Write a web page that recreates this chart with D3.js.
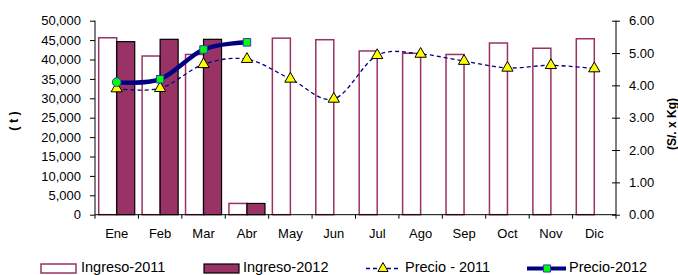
<!DOCTYPE html>
<html>
<head>
<meta charset="utf-8">
<script src="https://cdn.jsdelivr.net/npm/d3@7"></script>
<style>
  body { margin: 0; background: #fff; }
  svg { display: block; font-family: "Liberation Sans", Arial, sans-serif; }
  .axis path, .axis line { stroke: #000; }
  .axis text { font-size: 13px; fill: #000; }
</style>
</head>
<body>
<div id="chart"></div>
<script>
const months = ["Ene", "Feb", "Mar", "Abr", "May", "Jun", "Jul", "Ago", "Sep", "Oct", "Nov", "Dic"];
const ingreso2011 = [45600, 40900, 41300, 2900, 45500, 45100, 42200, 41600, 41300, 44250, 42900, 45350];
const ingreso2012 = [44600, 45200, 45200, 2900];
const precio2011 = [3.90, 3.91, 4.65, 4.81, 4.20, 3.58, 4.93, 4.97, 4.75, 4.54, 4.62, 4.52];
const precio2012 = [4.10, 4.19, 5.11, 5.33];
const leftTicks = [0, 5000, 10000, 15000, 20000, 25000, 30000, 35000, 40000, 45000, 50000];
const rightTicks = [0, 1, 2, 3, 4, 5, 6];

const w = 678, h = 275;
const pLeft = 95, pRight = 616, pTop = 20.7, pBottom = 214.7;

const svg = d3.select("#chart").append("svg")
  .attr("width", w)
  .attr("height", h);

const x = d3.scaleBand().domain(months).range([pLeft, pRight]).paddingInner(0).paddingOuter(0);
const xSub = d3.scaleBand().domain(["2011", "2012"]).range([3.7, x.bandwidth() - 3.7]);
const yL = d3.scaleLinear().domain([0, 50000]).range([pBottom, pTop]);
const yR = d3.scaleLinear().domain([0, 6]).range([pBottom, pTop]);

// bars 2011
svg.selectAll("rect.b11")
  .data(ingreso2011)
  .enter().append("rect")
  .attr("class", "b11")
  .attr("x", (d, i) => x(months[i]) + xSub("2011"))
  .attr("y", d => yL(d))
  .attr("width", xSub.bandwidth())
  .attr("height", d => pBottom - yL(d))
  .attr("fill", "#fff")
  .attr("stroke", "#993366")
  .attr("stroke-width", 1.5);

svg.selectAll("rect.b12")
  .data(ingreso2012)
  .enter().append("rect")
  .attr("class", "b12")
  .attr("x", (d, i) => x(months[i]) + xSub("2012"))
  .attr("y", d => yL(d))
  .attr("width", xSub.bandwidth())
  .attr("height", d => pBottom - yL(d))
  .attr("fill", "#993366")
  .attr("stroke", "#000")
  .attr("stroke-width", 1.2);

// axes
const xAxis = d3.axisBottom(x).tickSize(0).tickPadding(14);
const gx = svg.append("g")
  .attr("class", "axis")
  .attr("transform", `translate(0, ${pBottom})`)
  .call(xAxis);
gx.select(".domain").attr("d", `M${pLeft},0H${pRight}`);
// ticks at category boundaries
gx.selectAll("line.bnd")
  .data(d3.range(months.length + 1))
  .enter().append("line")
  .attr("class", "bnd")
  .attr("x1", i => pLeft + i * x.step())
  .attr("x2", i => pLeft + i * x.step())
  .attr("y1", 0)
  .attr("y2", 4)
  .attr("stroke", "#000");

const gl = svg.append("g")
  .attr("class", "axis")
  .attr("transform", `translate(${pLeft}, 0)`)
  .call(d3.axisLeft(yL).tickValues(leftTicks).tickSize(5).tickPadding(9).tickFormat(d3.format(",")));
gl.select(".domain").attr("d", `M0,${pTop}V${pBottom}`);

const gr = svg.append("g")
  .attr("class", "axis")
  .attr("transform", `translate(${pRight}, 0)`)
  .call(d3.axisRight(yR).tickValues(rightTicks).tickSize(4).tickPadding(9).tickFormat(d3.format(".2f")));
gr.select(".domain").attr("d", `M0,${pTop}V${pBottom}`);
gr.selectAll(".tick line").attr("x1", -4);

// axis titles
svg.append("text")
  .attr("transform", `translate(17.5, 121) rotate(-90)`)
  .attr("text-anchor", "middle")
  .attr("font-size", "12.5px")
  .attr("font-weight", "bold")
  .text("( t )");

svg.append("text")
  .attr("transform", `translate(676, 124) rotate(-90)`)
  .attr("text-anchor", "middle")
  .attr("font-size", "12px")
  .attr("font-weight", "bold")
  .text("(S/. x Kg)");

// lines
const cx = i => x(months[i]) + x.bandwidth() / 2;
const line = d3.line()
  .x((d, i) => cx(i))
  .y(d => yR(d))
  .curve(d3.curveCatmullRom.alpha(0));

svg.append("path")
  .datum(precio2011)
  .attr("d", line)
  .attr("fill", "none")
  .attr("stroke", "#000080")
  .attr("stroke-width", 1.3)
  .attr("stroke-dasharray", "4,3");

const tri = d3.symbol().type(d3.symbolTriangle).size(55);
svg.selectAll("path.t11")
  .data(precio2011)
  .enter().append("path")
  .attr("class", "t11")
  .attr("d", tri)
  .attr("transform", (d, i) => `translate(${cx(i)}, ${yR(d)})`)
  .attr("fill", "#ffff00")
  .attr("stroke", "#000")
  .attr("stroke-width", 1);

svg.append("path")
  .datum(precio2012)
  .attr("d", line)
  .attr("fill", "none")
  .attr("stroke", "#000080")
  .attr("stroke-width", 4.5);

svg.selectAll("path.m12")
  .data(precio2012)
  .enter().append("path")
  .attr("class", "m12")
  .attr("d", (d, i) => d3.symbol().type(i === 0 ? d3.symbolCircle : d3.symbolSquare).size(i === 0 ? 60 : 56)())
  .attr("transform", (d, i) => `translate(${cx(i)}, ${yR(d)})`)
  .attr("fill", "#00ff00")
  .attr("stroke", "#3333cc")
  .attr("stroke-width", 1);

// legend
const lg = svg.append("g").attr("font-size", "14.5px");
const ly = 268.5;

lg.append("rect").attr("x", 41).attr("y", ly - 4.5).attr("width", 35).attr("height", 9)
  .attr("fill", "#fff").attr("stroke", "#993366").attr("stroke-width", 1.5);
lg.append("text").attr("x", 81).attr("y", ly + 3.5).text("Ingreso-2011");

lg.append("rect").attr("x", 204).attr("y", ly - 4.5).attr("width", 35).attr("height", 9)
  .attr("fill", "#993366").attr("stroke", "#000").attr("stroke-width", 1.2);
lg.append("text").attr("x", 243).attr("y", ly + 3.5).text("Ingreso-2012");

lg.append("line").attr("x1", 366).attr("x2", 400).attr("y1", ly).attr("y2", ly)
  .attr("stroke", "#000080").attr("stroke-width", 1.3).attr("stroke-dasharray", "4,3");
lg.append("path").attr("d", d3.symbol().type(d3.symbolTriangle).size(45))
  .attr("transform", `translate(383, ${ly})`)
  .attr("fill", "#ffff00").attr("stroke", "#000");
lg.append("text").attr("x", 405).attr("y", ly + 3.5).text("Precio - 2011");

lg.append("line").attr("x1", 527).attr("x2", 566).attr("y1", ly).attr("y2", ly)
  .attr("stroke", "#000080").attr("stroke-width", 4);
lg.append("path").attr("d", d3.symbol().type(d3.symbolSquare).size(50))
  .attr("transform", `translate(547, ${ly})`)
  .attr("fill", "#00ff00").attr("stroke", "#3333cc");
lg.append("text").attr("x", 569).attr("y", ly + 3.5).text("Precio-2012");
</script>
</body>
</html>
